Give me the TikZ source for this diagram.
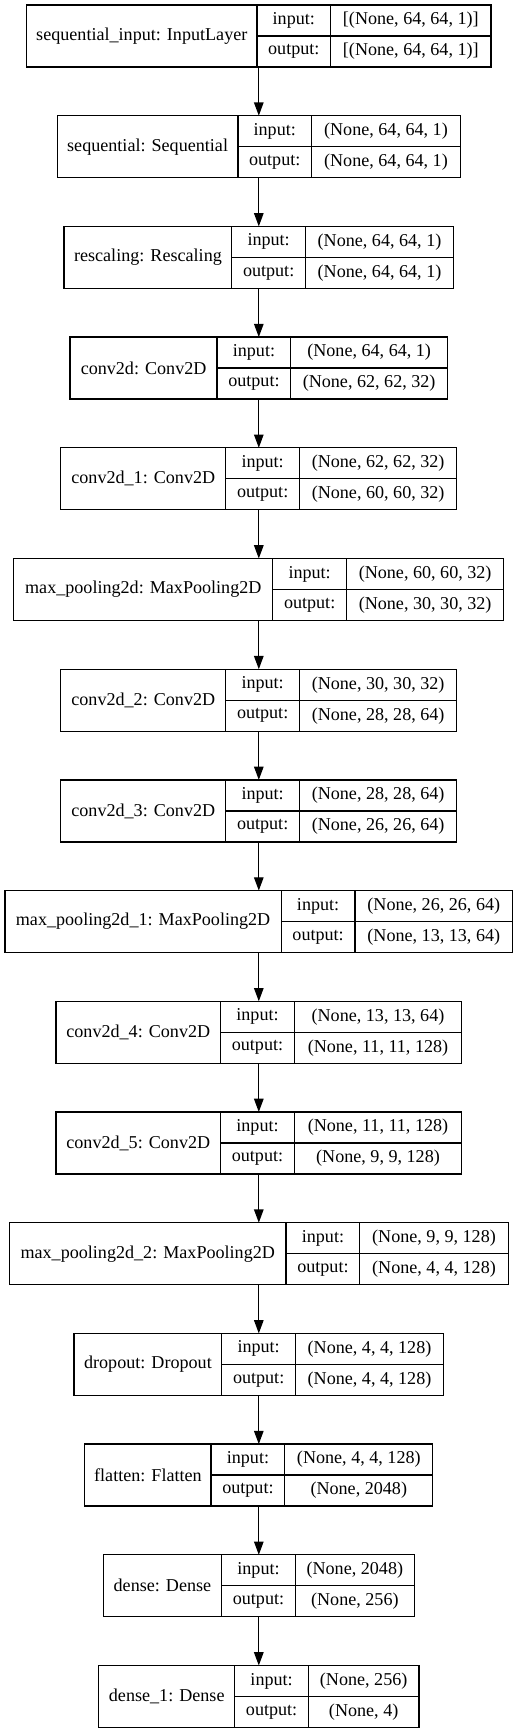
\documentclass[tikz,border=0pt]{standalone}
\usepackage{fontspec}
\setmainfont{Liberation Serif}
\usetikzlibrary{positioning,arrows.meta}

\begin{document}
\begin{tikzpicture}[x=1pt,y=1pt,
        every node/.style={font=\fontsize{18.1}{21}\selectfont},
        layer/.style={minimum height=62pt,inner sep=0pt,outer sep=0pt},
        namecell/.style={draw,line width=1.3pt,minimum height=62pt,inner sep=0pt,outer sep=0pt,anchor=west},
        port/.style={draw,line width=1.3pt,minimum width=73.7pt,minimum height=31pt,inner sep=0pt,outer sep=0pt,anchor=north west},
        val/.style={draw,line width=1.3pt,minimum height=31pt,inner sep=0pt,outer sep=0pt,anchor=north west},
        arr/.style={-{Triangle[length=13.3pt,width=9.5pt]},line width=1.3pt}]
    \useasboundingbox (0,0) rectangle (517,-1733);

    % sequential_input
    \node[layer,minimum width=464.3pt] (seqin) at (258.8,-36) {};
    \node[namecell,minimum width=230.3pt] (seqin-name) at (seqin.west) {sequential\_input: InputLayer};
    \node[port] (seqin-in) at (seqin-name.north east) {input:};
    \node[port] (seqin-out) at (seqin-in.south west) {output:};
    \node[val,minimum width=160.3pt] at (seqin-in.north east) {[(None, 64, 64, 1)]};
    \node[val,minimum width=160.3pt] at (seqin-out.north east) {[(None, 64, 64, 1)]};

    % sequential
    \node[layer,minimum width=403pt,below=48.7pt of seqin] (seq) {};
    \node[namecell,minimum width=180.6pt] (seq-name) at (seq.west) {sequential: Sequential};
    \node[port] (seq-in) at (seq-name.north east) {input:};
    \node[port] (seq-out) at (seq-in.south west) {output:};
    \node[val,minimum width=148.7pt] at (seq-in.north east) {(None, 64, 64, 1)};
    \node[val,minimum width=148.7pt] at (seq-out.north east) {(None, 64, 64, 1)};

    % rescaling
    \node[layer,minimum width=389.4pt,below=48.7pt of seq] (resc) {};
    \node[namecell,minimum width=167.7pt] (resc-name) at (resc.west) {rescaling: Rescaling};
    \node[port] (resc-in) at (resc-name.north east) {input:};
    \node[port] (resc-out) at (resc-in.south west) {output:};
    \node[val,minimum width=148pt] at (resc-in.north east) {(None, 64, 64, 1)};
    \node[val,minimum width=148pt] at (resc-out.north east) {(None, 64, 64, 1)};

    % conv2d
    \node[layer,minimum width=377.4pt,below=48.7pt of resc] (conv) {};
    \node[namecell,minimum width=147pt] (conv-name) at (conv.west) {conv2d: Conv2D};
    \node[port] (conv-in) at (conv-name.north east) {input:};
    \node[port] (conv-out) at (conv-in.south west) {output:};
    \node[val,minimum width=156.7pt] at (conv-in.north east) {(None, 64, 64, 1)};
    \node[val,minimum width=156.7pt] at (conv-out.north east) {(None, 62, 62, 32)};

    % conv2d_1
    \node[layer,minimum width=396pt,below=48.7pt of conv] (conv1) {};
    \node[namecell,minimum width=165pt] (conv1-name) at (conv1.west) {conv2d\_1: Conv2D};
    \node[port] (conv1-in) at (conv1-name.north east) {input:};
    \node[port] (conv1-out) at (conv1-in.south west) {output:};
    \node[val,minimum width=157.3pt] at (conv1-in.north east) {(None, 62, 62, 32)};
    \node[val,minimum width=157.3pt] at (conv1-out.north east) {(None, 60, 60, 32)};

    % max_pooling2d
    \node[layer,minimum width=490pt,below=48.7pt of conv1] (pool) {};
    \node[namecell,minimum width=259pt] (pool-name) at (pool.west) {max\_pooling2d: MaxPooling2D};
    \node[port] (pool-in) at (pool-name.north east) {input:};
    \node[port] (pool-out) at (pool-in.south west) {output:};
    \node[val,minimum width=157.3pt] at (pool-in.north east) {(None, 60, 60, 32)};
    \node[val,minimum width=157.3pt] at (pool-out.north east) {(None, 30, 30, 32)};

    % conv2d_2
    \node[layer,minimum width=396pt,below=48.7pt of pool] (conv2) {};
    \node[namecell,minimum width=165pt] (conv2-name) at (conv2.west) {conv2d\_2: Conv2D};
    \node[port] (conv2-in) at (conv2-name.north east) {input:};
    \node[port] (conv2-out) at (conv2-in.south west) {output:};
    \node[val,minimum width=157.3pt] at (conv2-in.north east) {(None, 30, 30, 32)};
    \node[val,minimum width=157.3pt] at (conv2-out.north east) {(None, 28, 28, 64)};

    % conv2d_3
    \node[layer,minimum width=396pt,below=48.7pt of conv2] (conv3) {};
    \node[namecell,minimum width=165pt] (conv3-name) at (conv3.west) {conv2d\_3: Conv2D};
    \node[port] (conv3-in) at (conv3-name.north east) {input:};
    \node[port] (conv3-out) at (conv3-in.south west) {output:};
    \node[val,minimum width=157.3pt] at (conv3-in.north east) {(None, 28, 28, 64)};
    \node[val,minimum width=157.3pt] at (conv3-out.north east) {(None, 26, 26, 64)};

    % max_pooling2d_1
    \node[layer,minimum width=507.7pt,below=48.7pt of conv3] (pool1) {};
    \node[namecell,minimum width=276.3pt] (pool1-name) at (pool1.west) {max\_pooling2d\_1: MaxPooling2D};
    \node[port] (pool1-in) at (pool1-name.north east) {input:};
    \node[port] (pool1-out) at (pool1-in.south west) {output:};
    \node[val,minimum width=157.7pt] at (pool1-in.north east) {(None, 26, 26, 64)};
    \node[val,minimum width=157.7pt] at (pool1-out.north east) {(None, 13, 13, 64)};

    % conv2d_4
    \node[layer,minimum width=405.7pt,below=48.7pt of pool1] (conv4) {};
    \node[namecell,minimum width=164.7pt] (conv4-name) at (conv4.west) {conv2d\_4: Conv2D};
    \node[port] (conv4-in) at (conv4-name.north east) {input:};
    \node[port] (conv4-out) at (conv4-in.south west) {output:};
    \node[val,minimum width=167.3pt] at (conv4-in.north east) {(None, 13, 13, 64)};
    \node[val,minimum width=167.3pt] at (conv4-out.north east) {(None, 11, 11, 128)};

    % conv2d_5
    \node[layer,minimum width=405.7pt,below=48.7pt of conv4] (conv5) {};
    \node[namecell,minimum width=164.7pt] (conv5-name) at (conv5.west) {conv2d\_5: Conv2D};
    \node[port] (conv5-in) at (conv5-name.north east) {input:};
    \node[port] (conv5-out) at (conv5-in.south west) {output:};
    \node[val,minimum width=167.3pt] at (conv5-in.north east) {(None, 11, 11, 128)};
    \node[val,minimum width=167.3pt] at (conv5-out.north east) {(None, 9, 9, 128)};

    % max_pooling2d_2
    \node[layer,minimum width=498.8pt,below=48.7pt of conv5] (pool2) {};
    \node[namecell,minimum width=276.7pt] (pool2-name) at (pool2.west) {max\_pooling2d\_2: MaxPooling2D};
    \node[port] (pool2-in) at (pool2-name.north east) {input:};
    \node[port] (pool2-out) at (pool2-in.south west) {output:};
    \node[val,minimum width=148.4pt] at (pool2-in.north east) {(None, 9, 9, 128)};
    \node[val,minimum width=148.4pt] at (pool2-out.north east) {(None, 4, 4, 128)};

    % dropout
    \node[layer,minimum width=369.4pt,below=48.7pt of pool2] (drop) {};
    \node[namecell,minimum width=147.7pt] (drop-name) at (drop.west) {dropout: Dropout};
    \node[port] (drop-in) at (drop-name.north east) {input:};
    \node[port] (drop-out) at (drop-in.south west) {output:};
    \node[val,minimum width=148pt] at (drop-in.north east) {(None, 4, 4, 128)};
    \node[val,minimum width=148pt] at (drop-out.north east) {(None, 4, 4, 128)};

    % flatten
    \node[layer,minimum width=348pt,below=48.7pt of drop] (flat) {};
    \node[namecell,minimum width=126.3pt] (flat-name) at (flat.west) {flatten: Flatten};
    \node[port] (flat-in) at (flat-name.north east) {input:};
    \node[port] (flat-out) at (flat-in.south west) {output:};
    \node[val,minimum width=148pt] at (flat-in.north east) {(None, 4, 4, 128)};
    \node[val,minimum width=148pt] at (flat-out.north east) {(None, 2048)};

    % dense
    \node[layer,minimum width=311.1pt,below=48.7pt of flat] (dense) {};
    \node[namecell,minimum width=118.4pt] (dense-name) at (dense.west) {dense: Dense};
    \node[port] (dense-in) at (dense-name.north east) {input:};
    \node[port] (dense-out) at (dense-in.south west) {output:};
    \node[val,minimum width=119pt] at (dense-in.north east) {(None, 2048)};
    \node[val,minimum width=119pt] at (dense-out.north east) {(None, 256)};

    % dense_1
    \node[layer,minimum width=320.1pt,below=48.7pt of dense] (dense1) {};
    \node[namecell,minimum width=136pt] (dense1-name) at (dense1.west) {dense\_1: Dense};
    \node[port] (dense1-in) at (dense1-name.north east) {input:};
    \node[port] (dense1-out) at (dense1-in.south west) {output:};
    \node[val,minimum width=110.4pt] at (dense1-in.north east) {(None, 256)};
    \node[val,minimum width=110.4pt] at (dense1-out.north east) {(None, 4)};

    % arrows
    \draw[arr] (seqin) -- (seq);
    \draw[arr] (seq) -- (resc);
    \draw[arr] (resc) -- (conv);
    \draw[arr] (conv) -- (conv1);
    \draw[arr] (conv1) -- (pool);
    \draw[arr] (pool) -- (conv2);
    \draw[arr] (conv2) -- (conv3);
    \draw[arr] (conv3) -- (pool1);
    \draw[arr] (pool1) -- (conv4);
    \draw[arr] (conv4) -- (conv5);
    \draw[arr] (conv5) -- (pool2);
    \draw[arr] (pool2) -- (drop);
    \draw[arr] (drop) -- (flat);
    \draw[arr] (flat) -- (dense);
    \draw[arr] (dense) -- (dense1);
\end{tikzpicture}
\end{document}
